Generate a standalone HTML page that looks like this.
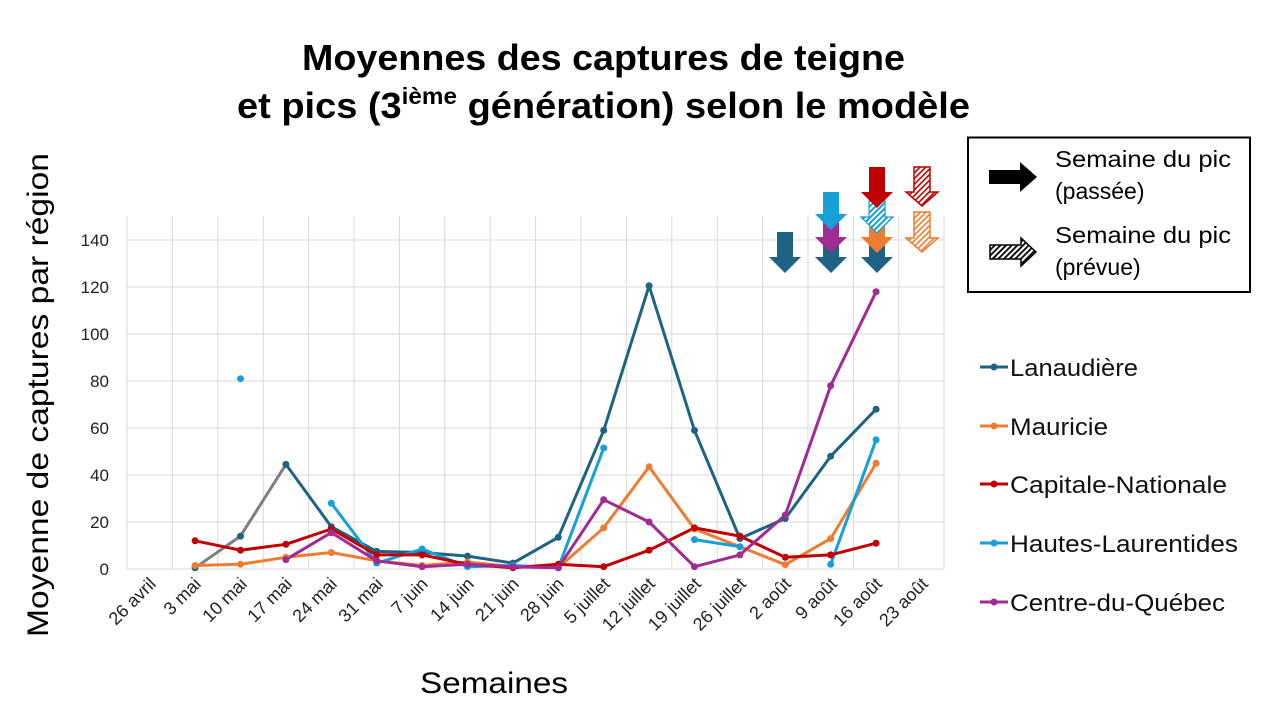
<!DOCTYPE html>
<html><head><meta charset="utf-8"><style>
body{margin:0;background:#fff;}
svg{display:block;font-family:"Liberation Sans",Arial,sans-serif;}
</style></head><body>
<svg width="1280" height="720" viewBox="0 0 1280 720" xmlns="http://www.w3.org/2000/svg">
<defs>
<pattern id="hb" width="4" height="4" patternUnits="userSpaceOnUse" patternTransform="rotate(45)"><rect width="4" height="4" fill="#fff"/><rect width="2" height="4" fill="#16A0DA"/></pattern>
<pattern id="hr" width="4" height="4" patternUnits="userSpaceOnUse" patternTransform="rotate(45)"><rect width="4" height="4" fill="#fff"/><rect width="1.6" height="4" fill="#C00000"/></pattern>
<pattern id="ho" width="4" height="4" patternUnits="userSpaceOnUse" patternTransform="rotate(45)"><rect width="4" height="4" fill="#fff"/><rect width="1.6" height="4" fill="#ED7D31"/></pattern>
<pattern id="hk" width="4" height="4" patternUnits="userSpaceOnUse" patternTransform="rotate(45)"><rect width="4" height="4" fill="#fff"/><rect width="1.8" height="4" fill="#000"/></pattern>
</defs>
<text x="302" y="70" font-size="36" font-weight="bold" textLength="603" lengthAdjust="spacingAndGlyphs">Moyennes des captures de teigne</text>
<text x="237" y="118" font-size="36" font-weight="bold" textLength="733" lengthAdjust="spacingAndGlyphs">et pics (3<tspan font-size="23" dy="-14">ième</tspan><tspan dy="14"> génération) selon le modèle</tspan></text>
<g stroke="#d9d9d9" stroke-width="1">
<line x1="127" y1="216" x2="127" y2="569"/><line x1="172.4" y1="216" x2="172.4" y2="569"/><line x1="217.8" y1="216" x2="217.8" y2="569"/><line x1="263.2" y1="216" x2="263.2" y2="569"/><line x1="308.6" y1="216" x2="308.6" y2="569"/><line x1="354" y1="216" x2="354" y2="569"/><line x1="399.4" y1="216" x2="399.4" y2="569"/><line x1="444.8" y1="216" x2="444.8" y2="569"/><line x1="490.2" y1="216" x2="490.2" y2="569"/><line x1="535.6" y1="216" x2="535.6" y2="569"/><line x1="581" y1="216" x2="581" y2="569"/><line x1="626.4" y1="216" x2="626.4" y2="569"/><line x1="671.8" y1="216" x2="671.8" y2="569"/><line x1="717.2" y1="216" x2="717.2" y2="569"/><line x1="762.6" y1="216" x2="762.6" y2="569"/><line x1="808" y1="216" x2="808" y2="569"/><line x1="853.4" y1="216" x2="853.4" y2="569"/><line x1="898.8" y1="216" x2="898.8" y2="569"/><line x1="944" y1="216" x2="944" y2="569"/>
<line x1="127" y1="240" x2="944" y2="240"/><line x1="127" y1="287" x2="944" y2="287"/><line x1="127" y1="334" x2="944" y2="334"/><line x1="127" y1="381" x2="944" y2="381"/><line x1="127" y1="428" x2="944" y2="428"/><line x1="127" y1="475" x2="944" y2="475"/><line x1="127" y1="522" x2="944" y2="522"/><line x1="127" y1="569" x2="944" y2="569"/>
</g>
<g font-size="17" text-anchor="end" fill="#222">
<text x="109" y="246">140</text><text x="109" y="293">120</text><text x="109" y="340">100</text><text x="109" y="387">80</text><text x="109" y="434">60</text><text x="109" y="481">40</text><text x="109" y="528">20</text><text x="109" y="575">0</text>
</g>
<g font-size="18" text-anchor="end" fill="#222">
<text transform="translate(157,585) rotate(-45)">26 avril</text>
<text transform="translate(202,585) rotate(-45)">3 mai</text>
<text transform="translate(248,585) rotate(-45)">10 mai</text>
<text transform="translate(293,585) rotate(-45)">17 mai</text>
<text transform="translate(338,585) rotate(-45)">24 mai</text>
<text transform="translate(384,585) rotate(-45)">31 mai</text>
<text transform="translate(429,585) rotate(-45)">7 juin</text>
<text transform="translate(475,585) rotate(-45)">14 juin</text>
<text transform="translate(520,585) rotate(-45)">21 juin</text>
<text transform="translate(565,585) rotate(-45)">28 juin</text>
<text transform="translate(611,585) rotate(-45)">5 juillet</text>
<text transform="translate(656,585) rotate(-45)">12 juillet</text>
<text transform="translate(702,585) rotate(-45)">19 juillet</text>
<text transform="translate(747,585) rotate(-45)">26 juillet</text>
<text transform="translate(792,585) rotate(-45)">2 août</text>
<text transform="translate(838,585) rotate(-45)">9 août</text>
<text transform="translate(883,585) rotate(-45)">16 août</text>
<text transform="translate(929,585) rotate(-45)">23 août</text>
</g>
<text x="420" y="693" font-size="30" textLength="148" lengthAdjust="spacingAndGlyphs">Semaines</text>
<text transform="translate(48,637) rotate(-90)" font-size="30" textLength="484" lengthAdjust="spacingAndGlyphs">Moyenne de captures par région</text>
<g fill="none" stroke-width="3" stroke-linejoin="round">
<polyline stroke="#7f7f7f" points="195.1,567.8 240.5,536.1 285.9,464.4"/>
<polyline stroke="#1F6384" points="285.9,464.4 331.3,526.7 376.7,551.4 422.1,552.5 467.5,556.1 512.9,563.1 558.3,537.3 603.7,430.4 649.1,285.8 694.5,430.4 739.9,538.5 785.3,518.5 830.7,456.2 876.1,409.2"/>
<polyline stroke="#ED7D31" points="195.1,565.5 240.5,564.3 285.9,557.3 331.3,552.5 376.7,560.8 422.1,565.5 467.5,562 512.9,566.7 558.3,567.8 603.7,527.9 649.1,466.8 694.5,529 739.9,546.7 785.3,564.7 830.7,538.6 876.1,463.3"/>
<polyline stroke="#16A0DA" points="331.3,503.2 376.7,563.1 422.1,549 467.5,566.7 512.9,565.5 558.3,567.8 603.7,448"/>
<polyline stroke="#16A0DA" points="694.5,539.6 739.9,546.7"/>
<polyline stroke="#16A0DA" points="830.7,564.3 876.1,439.8"/>
<polyline stroke="#C00000" points="195.1,540.8 240.5,550.2 285.9,544.3 331.3,529 376.7,554.9 422.1,554.9 467.5,564.3 512.9,567.8 558.3,564.3 603.7,566.7 649.1,550.2 694.5,527.9 739.9,536.1 785.3,557.3 830.7,554.9 876.1,543.2"/>
<polyline stroke="#A02B93" points="285.9,559.6 331.3,532.6 376.7,560.8 422.1,566.7 467.5,564.3 512.9,566.7 558.3,567.8 603.7,499.7 649.1,522 694.5,566.7 739.9,554.9 785.3,515 830.7,385.7 876.1,291.7"/>
</g>
<g fill="#1F6384"><circle cx="195.1" cy="567.8" r="3.5"/><circle cx="240.5" cy="536.1" r="3.5"/><circle cx="285.9" cy="464.4" r="3.5"/><circle cx="331.3" cy="526.7" r="3.5"/><circle cx="376.7" cy="551.4" r="3.5"/><circle cx="422.1" cy="552.5" r="3.5"/><circle cx="467.5" cy="556.1" r="3.5"/><circle cx="512.9" cy="563.1" r="3.5"/><circle cx="558.3" cy="537.3" r="3.5"/><circle cx="603.7" cy="430.4" r="3.5"/><circle cx="649.1" cy="285.8" r="3.5"/><circle cx="694.5" cy="430.4" r="3.5"/><circle cx="739.9" cy="538.5" r="3.5"/><circle cx="785.3" cy="518.5" r="3.5"/><circle cx="830.7" cy="456.2" r="3.5"/><circle cx="876.1" cy="409.2" r="3.5"/></g>
<g fill="#ED7D31"><circle cx="195.1" cy="565.5" r="3.5"/><circle cx="240.5" cy="564.3" r="3.5"/><circle cx="285.9" cy="557.3" r="3.5"/><circle cx="331.3" cy="552.5" r="3.5"/><circle cx="376.7" cy="560.8" r="3.5"/><circle cx="422.1" cy="565.5" r="3.5"/><circle cx="467.5" cy="562" r="3.5"/><circle cx="512.9" cy="566.7" r="3.5"/><circle cx="558.3" cy="567.8" r="3.5"/><circle cx="603.7" cy="527.9" r="3.5"/><circle cx="649.1" cy="466.8" r="3.5"/><circle cx="694.5" cy="529" r="3.5"/><circle cx="739.9" cy="546.7" r="3.5"/><circle cx="785.3" cy="564.7" r="3.5"/><circle cx="830.7" cy="538.6" r="3.5"/><circle cx="876.1" cy="463.3" r="3.5"/></g>
<g fill="#16A0DA"><circle cx="240.5" cy="378.7" r="3.5"/><circle cx="331.3" cy="503.2" r="3.5"/><circle cx="376.7" cy="563.1" r="3.5"/><circle cx="422.1" cy="549" r="3.5"/><circle cx="467.5" cy="566.7" r="3.5"/><circle cx="512.9" cy="565.5" r="3.5"/><circle cx="558.3" cy="567.8" r="3.5"/><circle cx="603.7" cy="448" r="3.5"/><circle cx="694.5" cy="539.6" r="3.5"/><circle cx="739.9" cy="546.7" r="3.5"/><circle cx="830.7" cy="564.3" r="3.5"/><circle cx="876.1" cy="439.8" r="3.5"/></g>
<g fill="#C00000"><circle cx="195.1" cy="540.8" r="3.5"/><circle cx="240.5" cy="550.2" r="3.5"/><circle cx="285.9" cy="544.3" r="3.5"/><circle cx="331.3" cy="529" r="3.5"/><circle cx="376.7" cy="554.9" r="3.5"/><circle cx="422.1" cy="554.9" r="3.5"/><circle cx="467.5" cy="564.3" r="3.5"/><circle cx="512.9" cy="567.8" r="3.5"/><circle cx="558.3" cy="564.3" r="3.5"/><circle cx="603.7" cy="566.7" r="3.5"/><circle cx="649.1" cy="550.2" r="3.5"/><circle cx="694.5" cy="527.9" r="3.5"/><circle cx="739.9" cy="536.1" r="3.5"/><circle cx="785.3" cy="557.3" r="3.5"/><circle cx="830.7" cy="554.9" r="3.5"/><circle cx="876.1" cy="543.2" r="3.5"/></g>
<g fill="#A02B93"><circle cx="285.9" cy="559.6" r="3.5"/><circle cx="331.3" cy="532.6" r="3.5"/><circle cx="376.7" cy="560.8" r="3.5"/><circle cx="422.1" cy="566.7" r="3.5"/><circle cx="467.5" cy="564.3" r="3.5"/><circle cx="512.9" cy="566.7" r="3.5"/><circle cx="558.3" cy="567.8" r="3.5"/><circle cx="603.7" cy="499.7" r="3.5"/><circle cx="649.1" cy="522" r="3.5"/><circle cx="694.5" cy="566.7" r="3.5"/><circle cx="739.9" cy="554.9" r="3.5"/><circle cx="785.3" cy="515" r="3.5"/><circle cx="830.7" cy="385.7" r="3.5"/><circle cx="876.1" cy="291.7" r="3.5"/></g>
<!-- peak arrows (bottom first so upper arrows overlap) -->
<path d="M777,232 H793 V257 H801 L785,273 L769,257 H777 Z" fill="#1F6384"/>
<path d="M823,240 H839 V257 H847 L831,273 L815,257 H823 Z" fill="#1F6384"/>
<path d="M823,222 H839 V237 H847 L831,253 L815,237 H823 Z" fill="#A02B93"/>
<path d="M823,192 H839 V214 H847 L831,230 L815,214 H823 Z" fill="#16A0DA"/>
<path d="M869,240 H885 V257 H893 L877,273 L861,257 H869 Z" fill="#1F6384"/>
<path d="M869,224 H885 V237 H893 L877,253 L861,237 H869 Z" fill="#ED7D31"/>
<path d="M869,201 H885 V217 H893 L877,233 L861,217 H869 Z" fill="url(#hb)" stroke="#16A0DA" stroke-width="1.2"/>
<path d="M869,167 H885 V192 H893 L877,208 L861,192 H869 Z" fill="#C00000"/>
<path d="M914,167 H930 V192 H938 L922,206 L906,192 H914 Z" fill="url(#hr)" stroke="#C00000" stroke-width="1.5"/>
<path d="M914,212 H930 V238 H938 L922,252 L906,238 H914 Z" fill="url(#ho)" stroke="#ED7D31" stroke-width="1.5"/>
<!-- legend box -->
<rect x="968" y="137.5" width="282" height="154.5" fill="#fff" stroke="#000" stroke-width="2"/>
<path d="M989,170 H1020 V162 L1037,177 L1020,192 V184 H989 Z" fill="#000"/>
<path d="M990,245 H1021 V238 L1036,252 L1021,266 V259 H990 Z" fill="url(#hk)" stroke="#000" stroke-width="1.5"/>
<g font-size="23"><text x="1055" y="167" textLength="176" lengthAdjust="spacingAndGlyphs">Semaine du pic</text><text x="1055" y="199">(passée)</text><text x="1055" y="243" textLength="176" lengthAdjust="spacingAndGlyphs">Semaine du pic</text><text x="1055" y="275">(prévue)</text></g>
<g stroke-width="3">
<line x1="980" y1="367" x2="1008" y2="367" stroke="#1F6384"/><circle cx="994" cy="367" r="3.5" fill="#1F6384"/>
<line x1="980" y1="426" x2="1008" y2="426" stroke="#ED7D31"/><circle cx="994" cy="426" r="3.5" fill="#ED7D31"/>
<line x1="980" y1="484" x2="1008" y2="484" stroke="#C00000"/><circle cx="994" cy="484" r="3.5" fill="#C00000"/>
<line x1="980" y1="543" x2="1008" y2="543" stroke="#16A0DA"/><circle cx="994" cy="543" r="3.5" fill="#16A0DA"/>
<line x1="980" y1="602" x2="1008" y2="602" stroke="#A02B93"/><circle cx="994" cy="602" r="3.5" fill="#A02B93"/>
</g>
<g font-size="24" fill="#111">
<text x="1010" y="376" textLength="128" lengthAdjust="spacingAndGlyphs">Lanaudière</text>
<text x="1010" y="435" textLength="98" lengthAdjust="spacingAndGlyphs">Mauricie</text>
<text x="1010" y="493" textLength="217" lengthAdjust="spacingAndGlyphs">Capitale-Nationale</text>
<text x="1010" y="552" textLength="228" lengthAdjust="spacingAndGlyphs">Hautes-Laurentides</text>
<text x="1010" y="611" textLength="215" lengthAdjust="spacingAndGlyphs">Centre-du-Québec</text>
</g>
</svg>
</body></html>
